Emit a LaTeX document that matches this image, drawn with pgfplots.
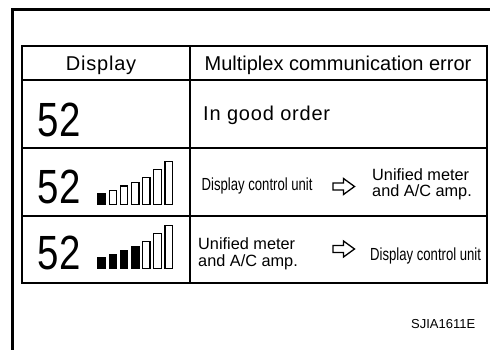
\documentclass[border=0pt]{standalone}
\usepackage{pgfplots}
\pgfplotsset{compat=1.18}
\usepackage{fontspec}
\setmainfont{Liberation Sans}
\newfontfamily\narrowfont[FakeStretch=0.75]{Liberation Sans}
\newfontfamily\digitfont[FakeStretch=0.8]{Liberation Sans}
\newfontfamily\spacedfont[LetterSpace=4]{Liberation Sans}
\newcommand{\fs}[1]{\fontsize{#1bp}{#1bp}\selectfont}
\begin{document}
\begin{tikzpicture}
\begin{axis}[at={(0,0)}, anchor=south west, width=490bp, height=350bp, scale only axis,
  xmin=0, xmax=490, ymin=0, ymax=350, y dir=reverse, hide axis, clip=false]
% outer frame (top and left edges)
\draw[line width=3.2bp, line join=miter, line cap=rect] (axis cs:12.5,350) -- (axis cs:12.5,9.5) -- (axis cs:490,9.5);
% table grid
\draw[line width=1.3bp] (axis cs:22,46) rectangle (axis cs:487,283);
\draw[line width=1.3bp] (axis cs:22,80) -- (axis cs:487,80);
\draw[line width=1.3bp] (axis cs:22,148) -- (axis cs:487,148);
\draw[line width=1.3bp] (axis cs:22,216) -- (axis cs:487,216);
\draw[line width=1.3bp] (axis cs:190,46) -- (axis cs:190,283);
% header
\node[anchor=base, inner sep=0, font=\spacedfont\fs{20}] at (axis cs:101,70) {Display};
\node[anchor=base, inner sep=0, font=\fs{20}] at (axis cs:338,70) {Multiplex communication error};
% big digits
\node[anchor=base west, inner sep=0, font=\digitfont\fs{48}] at (axis cs:37.5,136.7) {52};
\node[anchor=base west, inner sep=0, font=\digitfont\fs{48}] at (axis cs:37.5,203) {52};
\node[anchor=base west, inner sep=0, font=\digitfont\fs{48}] at (axis cs:37.5,269) {52};
% row 2
\node[anchor=base west, inner sep=0, font=\spacedfont\fs{20}] at (axis cs:203,120.7) {In good order};
% row 3
\node[anchor=base west, inner sep=0, font=\narrowfont\fs{17.5}] at (axis cs:201.5,190) {Display control unit};
\node[anchor=base west, inner sep=0, font=\fs{16.3}] at (axis cs:372,180) {Unified meter};
\node[anchor=base west, inner sep=0, font=\fs{16.3}] at (axis cs:372,196.7) {and A/C amp.};
% row 4
\node[anchor=base west, inner sep=0, font=\fs{16.3}] at (axis cs:198,249.3) {Unified meter};
\node[anchor=base west, inner sep=0, font=\fs{16.3}] at (axis cs:198,266.5) {and A/C amp.};
\node[anchor=base west, inner sep=0, font=\narrowfont\fs{17.5}] at (axis cs:370,260) {Display control unit};
% hollow arrows
\draw[line width=1.3bp, line join=miter] (axis cs:333,183) -- (axis cs:343.5,183) -- (axis cs:343.5,178.5) -- (axis cs:354.5,186.5) -- (axis cs:343.5,194.5) -- (axis cs:343.5,190) -- (axis cs:333,190) -- cycle;
\draw[line width=1.3bp, line join=miter] (axis cs:333,245.5) -- (axis cs:343.5,245.5) -- (axis cs:343.5,241) -- (axis cs:354.5,249) -- (axis cs:343.5,257) -- (axis cs:343.5,252.5) -- (axis cs:333,252.5) -- cycle;
% footer code
\node[anchor=base west, inner sep=0, font=\fs{13}] at (axis cs:411,328) {SJIA1611E};
\end{axis}
% signal bars, row 3 (1 of 7 filled)
\begin{axis}[at={(96.1bp,145.6bp)}, anchor=south west, width=78.2bp, height=44bp, scale only axis,
  xmin=0.5, xmax=7.5, ymin=0, ymax=44, hide axis, clip=false]
\addplot[ybar, bar shift=0pt, bar width=7.4bp, fill=black, draw=black, line width=1.2bp] coordinates {(1,11)};
\addplot[ybar, bar shift=0pt, bar width=7.4bp, fill=white, draw=black, line width=1.2bp] coordinates {(2,13.8) (3,18.3) (4,22) (5,26.7) (6,35) (7,43)};
\end{axis}
% signal bars, row 4 (4 of 7 filled)
\begin{axis}[at={(96.1bp,81.6bp)}, anchor=south west, width=78.2bp, height=44bp, scale only axis,
  xmin=0.5, xmax=7.5, ymin=0, ymax=44, hide axis, clip=false]
\addplot[ybar, bar shift=0pt, bar width=7.4bp, fill=black, draw=black, line width=1.2bp] coordinates {(1,10.5) (2,13.8) (3,18) (4,22)};
\addplot[ybar, bar shift=0pt, bar width=7.4bp, fill=white, draw=black, line width=1.2bp] coordinates {(5,26.5) (6,34.7) (7,42.7)};
\end{axis}
\pgfresetboundingbox
\path (0,0) rectangle (490bp,350bp);
\end{tikzpicture}
\end{document}
